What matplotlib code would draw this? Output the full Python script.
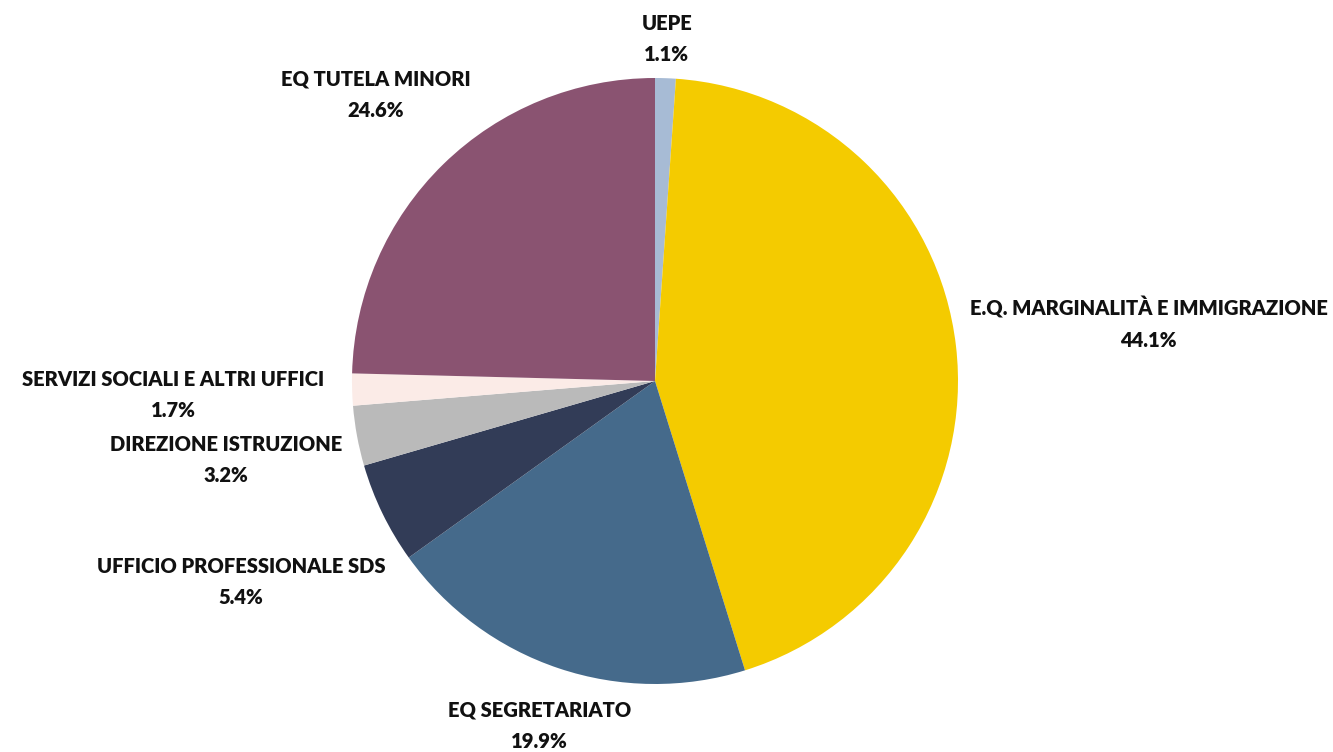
import matplotlib.pyplot as plt
import numpy as np

# share of cases by office
offices = ['UEPE', 'E.Q. MARGINALITÀ E IMMIGRAZIONE', 'EQ SEGRETARIATO',
           'UFFICIO PROFESSIONALE SDS', 'DIREZIONE ISTRUZIONE',
           'SERVIZI SOCIALI E ALTRI UFFICI', 'EQ TUTELA MINORI']
shares = [1.1, 44.1, 19.9, 5.4, 3.2, 1.7, 24.6]

colors = ['#a7bbd5', '#f4cb00', '#456a8b', '#323c57', '#bababa',
          '#fbebe7', '#8a5371']
# how far out each label sits, in pie radii
label_dist = [1.13, 1.64, 1.20, 1.52, 1.44, 1.59, 1.32]

plt.rcParams['font.family'] = ['Lato', 'DejaVu Sans']

fig = plt.figure(figsize=(13.33, 7.52), dpi=100)
ax = fig.add_axes([0, 0, 1, 1])

wedges, _ = ax.pie(shares, colors=colors, startangle=90, counterclock=False,
                   radius=1, center=(0, 0),
                   wedgeprops=dict(linewidth=0))

for w, name, val, d in zip(wedges, offices, shares, label_dist):
    mid = np.deg2rad((w.theta1 + w.theta2) / 2)
    ax.text(d * np.cos(mid), d * np.sin(mid), f'{name}\n{val}%',
            ha='center', va='center', fontsize=14.5, fontweight='heavy',
            linespacing=1.75, color='#111111')

ax.set_xlim(-655 / 303, (1333 - 655) / 303)
ax.set_ylim(-371 / 303, 381 / 303)
ax.set_aspect('equal')
ax.axis('off')

fig.savefig('out.png', dpi=100)
